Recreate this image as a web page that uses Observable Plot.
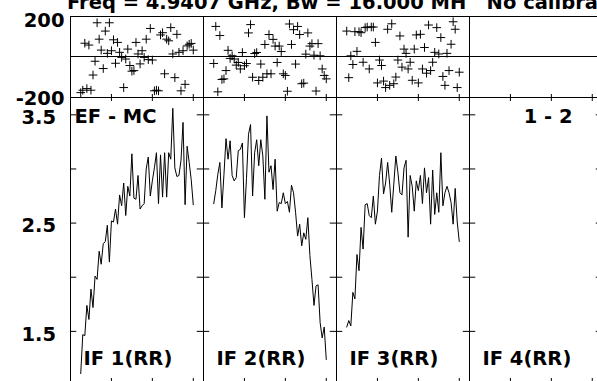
<!DOCTYPE html>
<html><head><meta charset="utf-8">
<script src="https://cdn.jsdelivr.net/npm/d3@7"></script>
<script src="https://cdn.jsdelivr.net/npm/@observablehq/plot@0.6"></script>
<style>
html,body{margin:0;padding:0;background:#fff;overflow:hidden;}
#wrap{position:relative;width:597px;height:381px;overflow:hidden;font-family:"DejaVu Sans",sans-serif;font-weight:bold;background:#fff;}
#title{position:absolute;left:67px;top:-7px;font-size:19.5px;line-height:20px;white-space:pre;color:#000;}
#phase,#amp{position:absolute;left:0;}
#phase{top:0;}
#amp{top:97px;}
svg{max-width:none !important;overflow:visible;}
</style></head><body>
<div id="wrap"><div id="amp"></div><div id="phase"></div><div id="title"></div></div>
<script>
// ---- data ----
const titleText = "Freq = 4.9407 GHz, Bw = 16.000 MH   No calibration";
const ifs = ["IF 1", "IF 2", "IF 3", "IF 4"];
const ifLabels = ["IF 1(RR)", "IF 2(RR)", "IF 3(RR)", "IF 4(RR)"];
const baselineLabel = "EF - MC";
const pairLabel = "1 - 2";
const channels = [5,6,7,8,9,10,11,12,13,14,15,16,17,18,19,20,21,22,23,24,25,26,27,28,29,30,31,32,33,34,35,36,37,38,39,40,41,42,43,44,45,46,47,48,49,50,51,52,53,54,55,56,57,58,59,60];
const channelDomain = [0, 65];
const xTicks = [20, 40, 60];

const phaseIF1 = [-176,-164,68,-156,59,-164,-89,-21,169,88,34,-57,128,18,169,31,85,-31,72,23,-2,-151,-10,39,-42,-70,-67,72,15,-34,31,-2,88,-13,141,-15,-167,-164,-167,109,120,-83,88,80,145,15,-102,112,23,-167,31,-135,55,63,67,34];
const phaseIF2 = [-32,151,-172,106,-111,-108,-67,33,-7,6,-10,-40,-27,-59,22,-43,-32,119,160,-100,17,22,-116,-35,-100,62,-83,111,-83,87,54,-27,54,27,-83,-91,-169,163,62,135,-35,151,111,-132,-129,14,119,54,66,9,-168,66,6,-59,-91,-108];
const phaseIF3 = [128,-102,6,-37,125,28,125,120,-26,145,148,-59,148,148,72,-128,-15,-42,-119,-151,137,-140,164,-132,-99,-15,104,-50,39,18,-59,-26,-115,39,109,-128,112,-59,47,-80,158,-67,-26,23,145,15,96,-96,-140,18,-67,63,174,137,-151,-75];
const phaseDomain = [-200, 200];
const phaseTickLabels = ["200", "-200"];
const phaseTickValues = [200, -200];

const ampIF1 = [1.11,1.47,1.46,1.74,1.61,1.89,1.72,2.01,1.98,2.24,2.12,2.31,2.33,2.48,2.14,2.52,2.51,2.63,2.49,2.76,2.66,2.87,2.57,2.84,2.75,3.14,2.73,2.72,2.94,2.63,2.66,2.68,3.00,3.11,2.75,2.89,3.01,3.15,2.68,3.13,2.74,3.15,2.74,3.15,3.09,3.56,3.01,2.93,2.94,3.08,3.43,2.67,3.21,3.06,2.90,2.67];
const ampIF2 = [2.68,2.80,2.95,3.06,2.64,2.95,3.28,3.09,3.26,2.94,2.89,2.92,3.17,3.18,3.24,2.55,2.91,3.32,3.41,2.75,3.15,3.27,3.03,3.27,3.12,2.72,3.49,2.97,3.03,2.81,3.09,2.61,2.69,2.68,2.78,2.68,2.70,2.60,2.85,2.78,2.60,2.38,2.49,2.29,2.41,2.35,2.55,2.20,1.98,1.74,1.92,1.93,1.58,1.44,1.54,1.24];
const ampIF3 = [1.54,1.60,1.55,1.86,1.80,2.21,2.06,2.46,2.26,2.67,2.68,2.57,2.55,2.75,2.49,2.61,2.94,3.10,2.77,2.87,3.06,2.86,2.60,2.86,3.12,2.97,2.78,2.76,3.01,3.08,2.37,2.94,2.84,2.61,2.89,2.80,2.94,2.68,3.01,2.78,2.92,2.49,2.99,2.58,2.78,2.60,3.15,2.66,2.78,2.84,2.78,2.69,2.49,2.82,2.51,2.33];
const ampDomain = [1.0, 3.66];
const ampTicks = [1.5, 2.0, 2.5, 3.0, 3.5];
const ampTickLabels = ["3.5", "2.5", "1.5"];
const ampTickValues = [3.5, 2.5, 1.5];

// ---- build ----
document.getElementById("title").textContent = titleText;

const W = 603, ML = 68;
const panelW = (W - ML) / 4;
const font = {fontFamily: "DejaVu Sans", fontWeight: "bold", fontSize: 19.5, fill: "#000"};
const ink = "#000";

const phaseSeries = [phaseIF1, phaseIF2, phaseIF3];
const ampSeries = [ampIF1, ampIF2, ampIF3];
const phaseRows = [], ampRows = [];
phaseSeries.forEach((s, i) => s.forEach((v, j) => phaseRows.push({fx: ifs[i], ch: channels[j], v})));
ampSeries.forEach((s, i) => s.forEach((v, j) => ampRows.push({fx: ifs[i], ch: channels[j], v})));

const PH = 97, PT = 16;
const phasePlot = Plot.plot({
  width: W, height: PH, marginLeft: ML, marginRight: 0, marginTop: PT, marginBottom: 0,
  style: {background: "transparent", overflow: "visible", maxWidth: "none"},
  fx: {domain: ifs, padding: 0, axis: null},
  x: {domain: channelDomain, axis: null},
  y: {domain: phaseDomain, axis: null},
  marks: [
    Plot.frame({stroke: ink}),
    Plot.ruleY([0], {stroke: ink, dy: -0.5}),
    Plot.tickX(xTicks, {x: d => d, insetTop: (PH - PT) - 3, stroke: ink}),
    Plot.dot(phaseRows, {x: "ch", y: "v", fx: "fx", symbol: "plus", r: 2.9, stroke: ink, strokeWidth: 1}),
    Plot.text([phaseTickLabels[0]], {y: [phaseTickValues[0]], fx: ["IF 1"], frameAnchor: "left", textAnchor: "end", lineAnchor: "middle", dx: -6, dy: 4.5, ...font}),
    Plot.text([phaseTickLabels[1]], {y: [phaseTickValues[1]], fx: ["IF 1"], frameAnchor: "left", textAnchor: "end", lineAnchor: "middle", dx: -6, dy: 1, ...font}),
    Plot.text(ifs, {fx: ifs, text: () => "", frameAnchor: "left"})
  ]
});
document.getElementById("phase").appendChild(phasePlot);

const AH = 288;
const ampPlot = Plot.plot({
  width: W, height: AH, marginLeft: ML, marginRight: 0, marginTop: 0, marginBottom: 0,
  style: {background: "transparent", overflow: "visible", maxWidth: "none"},
  fx: {domain: ifs, padding: 0, axis: null},
  x: {domain: channelDomain, axis: null},
  y: {domain: ampDomain, axis: null},
  marks: [
    Plot.frame({stroke: ink}),
    Plot.tickY(ampTicks, {y: d => d, insetRight: panelW - 7, stroke: ink}),
    Plot.tickY(ampTicks, {y: d => d, insetLeft: panelW - 7, stroke: ink}),
    Plot.tickX(xTicks, {x: d => d, insetBottom: AH - 4, stroke: ink}),
    Plot.tickX(xTicks, {x: d => d, insetTop: AH - 7, stroke: ink}),
    Plot.line(ampRows, {x: "ch", y: "v", fx: "fx", z: "fx", stroke: ink, strokeWidth: 1}),
    Plot.text([baselineLabel], {fx: ["IF 1"], frameAnchor: "top-left", textAnchor: "start", lineAnchor: "bottom", dx: 4, dy: 25, ...font}),
    Plot.text([pairLabel], {fx: ["IF 4"], frameAnchor: "top-right", textAnchor: "end", lineAnchor: "bottom", dx: -30, dy: 25, ...font}),
    Plot.text(ifLabels, {fx: ifs, frameAnchor: "bottom-left", textAnchor: "start", lineAnchor: "bottom", dx: 13, dy: -21, ...font}),
    Plot.text(ampTickLabels, {y: ampTickValues, fx: ampTickLabels.map(() => "IF 1"), frameAnchor: "left", textAnchor: "end", lineAnchor: "middle", dx: -14.5, dy: 3, ...font})
  ]
});
document.getElementById("amp").appendChild(ampPlot);
</script>
</body></html>
